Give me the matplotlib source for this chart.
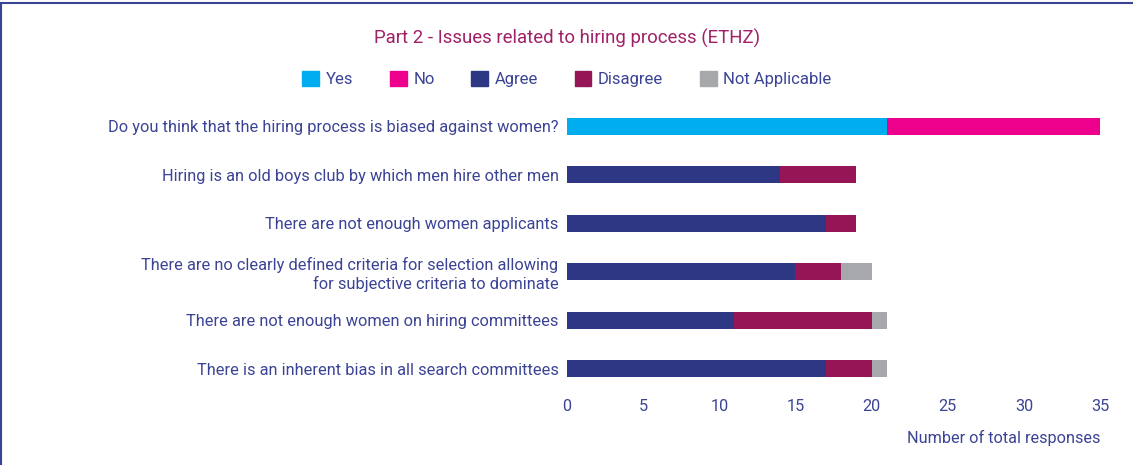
import numpy as np
import matplotlib.pyplot as plt
from matplotlib.patches import Patch, Rectangle

plt.rcParams['font.family'] = ['Roboto', 'DejaVu Sans']

preguntas = [
    "Do you think that the hiring process is biased against women?",
    "Hiring is an old boys club by which men hire other men",
    "There are not enough women applicants",
    "There are no clearly defined criteria for selection allowing\nfor subjective criteria to dominate",
    "There are not enough women on hiring committees",
    "There is an inherent bias in all search committees",
]
yes = [21, 0, 0, 0, 0, 0]
no = [14, 0, 0, 0, 0, 0]
agree = [0, 14, 17, 15, 11, 17]
disagree = [0, 5, 2, 3, 9, 3]
no_aplica = [0, 0, 0, 2, 1, 1]

series = [("Yes", yes, "#00AEEF"),
          ("No", no, "#EC008C"),
          ("Agree", agree, "#2E3784"),
          ("Disagree", disagree, "#961557"),
          ("Not Applicable", no_aplica, "#A7A8AC")]

texto = "#3B4395"

fig = plt.figure(figsize=(11.33, 4.65), dpi=100)
ax = fig.add_axes([0.5004, 0.1548, 0.4705, 0.6258])

y = np.arange(len(preguntas))
izq = np.zeros(len(preguntas))
for nombre, vals, color in series:
    vals = np.array(vals, dtype=float)
    ax.barh(y, vals, left=izq, height=0.35, color=color, label=nombre)
    izq += vals

ax.set_ylim(len(preguntas) - 0.5, -0.5)
ax.set_xlim(0, 35)
ax.set_xticks(range(0, 36, 5))
ax.set_yticks(y)
ax.set_yticklabels(preguntas, ha='right', multialignment='right')
ax.tick_params(axis='both', length=0, colors=texto)
ax.tick_params(axis='x', pad=4, labelsize=11.7)
ax.tick_params(axis='y', pad=6, labelsize=11.8)
for s in ax.spines.values():
    s.set_visible(False)

ax.set_xlabel("Number of total responses", color=texto, fontsize=11.7, loc='right', labelpad=12)

fig.text(0.5004, 0.918, "Part 2 - Issues related to hiring process (ETHZ)",
         ha='center', va='center', color="#A02168", fontsize=13.4)

handles = [Patch(color=c, label=n) for n, _, c in series]
leg = fig.legend(handles=handles, loc='center', bbox_to_anchor=(0.5004, 0.83), ncol=5,
                 frameon=False, handlelength=1.0, handleheight=1.0, handletextpad=0.4,
                 columnspacing=2.2, fontsize=12)
for t in leg.get_texts():
    t.set_color(texto)

# marco de la figura
fig.patches.append(Rectangle((0.001, -0.1), 1.2, 1.093, transform=fig.transFigure,
                             fill=False, edgecolor="#3B4395", linewidth=1.5))

fig.savefig("out.png", dpi=100)
